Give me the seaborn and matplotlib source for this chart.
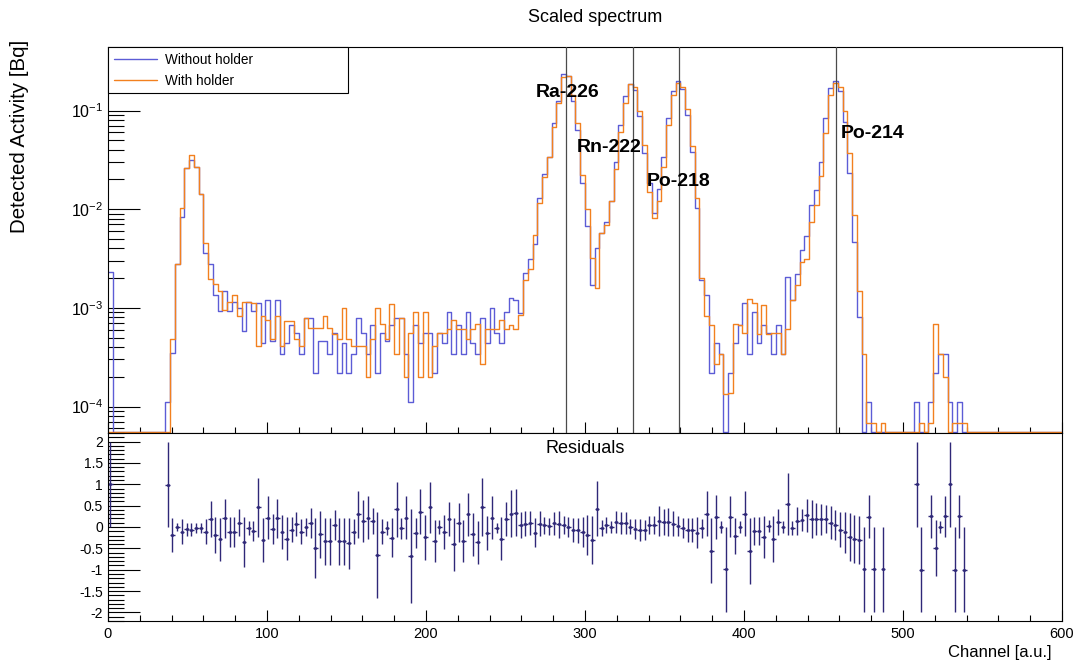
import numpy as np
import pandas as pd
import matplotlib
matplotlib.use("Agg")
import matplotlib.pyplot as plt
import matplotlib.ticker as mticker
from matplotlib.lines import Line2D
import seaborn as sns

# %% Data (200 bins of 3 channels, 0..600)
nan = np.nan
bin_edges = list(range(0, 603, 3))

without_holder = [
    2.3e-3, 0, 0, 0, 0, 0, 0, 0, 0, 0,
    0, 0, 1.12e-4, 3.5e-4, 2.8e-3, 8.4e-3, 2.63e-2, 3.17e-2, 2.69e-2, 1.43e-2,
    3.6e-3, 2.8e-3, 1.36e-3, 9.2e-4, 1.5e-3, 9.2e-4, 1.14e-3, 1.0e-3, 5.8e-4, 1.15e-3,
    9.2e-4, 1.12e-3, 4.4e-4, 1.2e-3, 4.6e-4, 1.2e-3, 3.4e-4, 4.4e-4, 6.7e-4, 5.6e-4,
    3.4e-4, 7.9e-4, 7.9e-4, 2.2e-4, 4.6e-4, 4.6e-4, 3.4e-4, 5.6e-4, 2.2e-4, 4.4e-4,
    2.2e-4, 3.4e-4, 7.9e-4, 5.6e-4, 3.4e-4, 6.7e-4, 2.2e-4, 5.6e-4, 4.6e-4, 6.7e-4,
    7.9e-4, 7.9e-4, 3.4e-4, 1.12e-4, 6.7e-4, 4.4e-4, 5.6e-4, 5.6e-4, 2.2e-4, 5.6e-4,
    4.4e-4, 9.0e-4, 3.4e-4, 6.7e-4, 3.4e-4, 9.0e-4, 4.4e-4, 3.4e-4, 7.9e-4, 4.4e-4,
    1.0e-3, 5.6e-4, 4.4e-4, 9.0e-4, 1.25e-3, 1.21e-3, 8.9e-4, 2.25e-3, 3.1e-3, 4.4e-3,
    1.3e-2, 2.25e-2, 3.37e-2, 7.5e-2, 0.125, 0.234, 0.225, 0.126, 0.064, 0.0184,
    6.8e-3, 1.7e-3, 4.0e-3, 5.7e-3, 7.5e-3, 1.2e-2, 3.0e-2, 7.2e-2, 0.139, 0.185,
    0.162, 0.087, 0.037, 0.0184, 9.1e-3, 1.6e-2, 3.4e-2, 8.4e-2, 0.156, 0.197,
    0.165, 0.090, 0.038, 1.03e-2, 1.9e-3, 1.35e-3, 2.2e-4, 4.4e-4, 3.4e-4, 0,
    2.2e-4, 4.4e-4, 6.7e-4, 1.12e-3, 3.4e-4, 9.0e-4, 4.4e-4, 6.7e-4, 5.6e-4, 3.4e-4,
    6.7e-4, 3.4e-4, 2.07e-3, 1.2e-3, 2.2e-3, 3.9e-3, 5.3e-3, 1.1e-2, 1.55e-2, 3.04e-2,
    8.4e-2, 0.17, 0.197, 0.156, 0.077, 2.32e-2, 4.7e-3, 8.1e-4, 0, 1.12e-4,
    0, 0, 0, 0, 0, 0, 0, 0, 0, 1.12e-4,
    0, 0, 1.12e-4, 2.2e-4, 3.4e-4, 3.4e-4, 1.12e-4, 0, 1.12e-4, 0,
    0, 0, 0, 0, 0, 0, 0, 0, 0, 0,
    0, 0, 0, 0, 0, 0, 0, 0, 0, 0,
]

with_holder = [
    0, 0, 0, 0, 0, 0, 0, 0, 0, 0,
    0, 0, 0, 4.8e-4, 2.8e-3, 1.03e-2, 2.63e-2, 3.56e-2, 2.69e-2, 1.43e-2,
    4.5e-3, 1.95e-3, 1.75e-3, 1.5e-3, 9.6e-4, 1.14e-3, 1.36e-3, 8.2e-4, 1.16e-3, 1.15e-3,
    1.12e-3, 4.1e-4, 8.2e-4, 7.5e-4, 4.8e-4, 8.2e-4, 4.1e-4, 7.3e-4, 7.3e-4, 4.8e-4,
    4.1e-4, 7.9e-4, 6.2e-4, 6.2e-4, 6.2e-4, 8.2e-4, 6.2e-4, 5.4e-4, 4.8e-4, 1.0e-3,
    4.8e-4, 4.1e-4, 4.1e-4, 4.1e-4, 2.0e-4, 4.8e-4, 1.0e-3, 6.8e-4, 4.8e-4, 1.1e-3,
    3.4e-4, 7.9e-4, 2.0e-4, 5.6e-4, 9.0e-4, 2.0e-4, 9.0e-4, 2.0e-4, 4.1e-4, 5.6e-4,
    5.6e-4, 6.1e-4, 7.5e-4, 6.1e-4, 6.1e-4, 4.8e-4, 6.1e-4, 6.8e-4, 2.7e-4, 6.1e-4,
    6.1e-4, 6.1e-4, 7.5e-4, 6.1e-4, 6.7e-4, 6.1e-4, 8.4e-4, 1.9e-3, 2.5e-3, 5.5e-3,
    1.15e-2, 2.1e-2, 3.37e-2, 6.8e-2, 0.118, 0.22, 0.225, 0.145, 0.075, 0.0223,
    1.0e-2, 3.2e-3, 1.6e-3, 5.7e-3, 6.9e-3, 1.2e-2, 2.55e-2, 6.0e-2, 0.119, 0.185,
    0.175, 0.100, 0.045, 0.0151, 8.1e-3, 1.22e-2, 2.7e-2, 7.16e-2, 0.144, 0.19,
    0.175, 0.104, 0.044, 1.29e-2, 2.0e-3, 8.2e-4, 6.7e-4, 2.7e-4, 3.4e-4, 1.35e-4,
    1.36e-4, 6.8e-4, 6.7e-4, 5.6e-4, 1.23e-3, 1.12e-3, 5.4e-4, 1.07e-3, 5.4e-4, 5.6e-4,
    5.6e-4, 3.4e-4, 6.1e-4, 1.2e-3, 1.7e-3, 2.9e-3, 3.1e-3, 7.4e-3, 1.1e-2, 2.18e-2,
    5.9e-2, 0.144, 0.19, 0.175, 0.098, 3.7e-2, 8.8e-3, 1.5e-3, 3.4e-4, 6.8e-5,
    6.8e-5, 0, 6.8e-5, 0, 0, 0, 0, 0, 0, 0,
    6.8e-5, 0, 6.8e-5, 6.8e-4, 3.4e-4, 2.0e-4, 0, 6.8e-5, 6.8e-5, 6.8e-5,
    0, 0, 0, 0, 0, 0, 0, 0, 0, 0,
    0, 0, 0, 0, 0, 0, 0, 0, 0, 0,
]

residual = [
    1.0, nan, nan, nan, nan, nan, nan, nan, nan, nan,
    nan, nan, 0.99, -0.18, 0.0, -0.11, -0.05, -0.06, -0.03, -0.03,
    -0.11, 0.18, -0.18, -0.29, 0.2, -0.11, -0.11, 0.1, -0.35, -0.03,
    -0.09, 0.46, -0.31, 0.22, -0.05, 0.2, -0.11, -0.27, -0.06, 0.07,
    -0.11, 0.0, 0.1, -0.49, -0.17, -0.33, -0.33, 0.04, -0.33, -0.33,
    -0.38, -0.11, 0.3, 0.14, 0.22, 0.14, -0.66, -0.11, -0.03, -0.25,
    0.41, -0.03, 0.22, -0.68, -0.15, 0.36, -0.24, 0.46, -0.33, 0.0,
    -0.11, 0.18, -0.41, 0.1, -0.33, 0.3, -0.17, -0.36, 0.47, -0.15,
    0.22, -0.02, -0.27, 0.18, 0.31, 0.33, 0.04, 0.08, 0.1, -0.13,
    0.08, 0.04, 0.02, 0.09, 0.06, 0.04, 0.0, -0.07, -0.08, -0.11,
    -0.19, -0.31, 0.43, -0.03, 0.05, 0.01, 0.12, 0.09, 0.09, 0.01,
    -0.04, -0.07, -0.07, 0.05, 0.05, 0.14, 0.12, 0.12, 0.08, 0.02,
    -0.03, -0.07, -0.07, -0.13, -0.03, 0.31, -0.56, 0.24, 0.0, -0.99,
    0.24, -0.21, 0.0, 0.31, -0.56, -0.10, -0.10, -0.24, 0.02, -0.29,
    0.12, 0.0, 0.54, -0.02, 0.14, 0.16, 0.27, 0.19, 0.18, 0.18,
    0.19, 0.10, 0.04, -0.06, -0.12, -0.24, -0.29, -0.30, -0.99, 0.24,
    -0.99, nan, -0.99, nan, nan, nan, nan, nan, nan, 1.0,
    -1.0, nan, 0.25, -0.49, 0.0, 0.25, 1.0, -1.0, 0.25, -1.0,
    nan, nan, nan, nan, nan, nan, nan, nan, nan, nan,
    nan, nan, nan, nan, nan, nan, nan, nan, nan, nan,
]

residual_err = [
    1.0, nan, nan, nan, nan, nan, nan, nan, nan, nan,
    nan, nan, 1.0, 0.4, 0.1, 0.3, 0.15, 0.15, 0.12, 0.12,
    0.3, 0.42, 0.42, 0.5, 0.45, 0.35, 0.35, 0.32, 0.58, 0.16,
    0.24, 0.69, 0.52, 0.5, 0.35, 0.45, 0.4, 0.5, 0.3, 0.27,
    0.3, 0.22, 0.35, 0.7, 0.55, 0.55, 0.55, 0.35, 0.55, 0.55,
    0.6, 0.3, 0.55, 0.5, 0.5, 0.3, 1.0, 0.3, 0.16, 0.45,
    0.65, 0.25, 0.5, 1.1, 0.35, 0.53, 0.53, 0.6, 0.5, 0.16,
    0.4, 0.4, 0.62, 0.45, 0.5, 0.5, 0.5, 0.5, 0.68, 0.4,
    0.5, 0.12, 0.5, 0.4, 0.55, 0.55, 0.3, 0.3, 0.28, 0.35,
    0.3, 0.2, 0.2, 0.27, 0.32, 0.21, 0.24, 0.27, 0.30, 0.35,
    0.46, 0.56, 0.64, 0.19, 0.18, 0.14, 0.26, 0.25, 0.26, 0.18,
    0.23, 0.26, 0.24, 0.21, 0.21, 0.35, 0.31, 0.32, 0.29, 0.23,
    0.23, 0.29, 0.29, 0.36, 0.22, 0.53, 0.76, 0.51, 0.14, 1.0,
    0.48, 0.43, 0.14, 0.53, 0.77, 0.33, 0.33, 0.49, 0.14, 0.54,
    0.31, 0.14, 0.73, 0.16, 0.33, 0.26, 0.39, 0.45, 0.37, 0.36,
    0.32, 0.38, 0.35, 0.41, 0.48, 0.56, 0.56, 0.56, 1.0, 0.5,
    1.0, nan, 1.0, nan, nan, nan, nan, nan, nan, 1.0,
    1.0, nan, 0.5, 0.66, 0.14, 0.48, 1.0, 1.0, 0.5, 1.0,
    nan, nan, nan, nan, nan, nan, nan, nan, nan, nan,
    nan, nan, nan, nan, nan, nan, nan, nan, nan, nan,
]

peak_names = ["Ra-226", "Rn-222", "Po-218", "Po-214"]
peak_channels = [288, 330, 359, 458]
# label anchor (left edge channel, activity) for each peak name
label_channels = [269, 295, 339, 461]
label_heights = [0.151, 0.042, 0.019, 0.059]

# %% Style
BLUE = "#5c5cd6"
ORANGE = "#f2801f"
RES_COLOR = "#2f2878"

sns.set_style("ticks")
plt.rcParams["font.family"] = ["Liberation Sans", "DejaVu Sans"]
plt.rcParams["text.color"] = "black"
plt.rcParams["mathtext.fontset"] = "custom"
plt.rcParams["mathtext.rm"] = "Liberation Sans"
plt.rcParams["mathtext.it"] = "Liberation Sans:italic"
plt.rcParams["mathtext.bf"] = "Liberation Sans:bold"

edges = np.array(bin_edges, dtype=float)
centers = (edges[:-1] + edges[1:]) / 2
half_bin = np.diff(edges) / 2
y_low, y_high = 5.4e-5, 0.44
floor = 5.55e-5  # empty bins are drawn along the bottom of the frame, like ROOT

df = pd.DataFrame({
    "channel": centers,
    "without": np.maximum(without_holder, floor),
    "with": np.maximum(with_holder, floor),
})

fig = plt.figure(figsize=(10.86, 6.64), dpi=100)
ax = fig.add_axes([0.0994, 0.3479, 0.8785, 0.5813])
axr = fig.add_axes([0.0994, 0.0648, 0.8785, 0.2831])

# %% Spectrum panel
sns.histplot(data=df, x="channel", weights="without", bins=bin_edges,
             element="step", fill=False, color=BLUE, linewidth=1.0, ax=ax)
sns.histplot(data=df, x="channel", weights="with", bins=bin_edges,
             element="step", fill=False, color=ORANGE, linewidth=1.0, ax=ax)
ax.set_yscale("log")
ax.set_xlim(0, 600)
ax.set_ylim(y_low, y_high)
ax.set_xlabel("")
ax.set_ylabel("")

for ch in peak_channels:
    ax.axvline(ch, color="#4a4a4a", lw=0.9, zorder=5)
for name, cx, cy in zip(peak_names, label_channels, label_heights):
    ax.text(cx, cy, name, fontsize=14, fontweight="bold", color="black",
            ha="left", va="center", zorder=6)

handles = [Line2D([], [], color=BLUE, lw=1.0), Line2D([], [], color=ORANGE, lw=1.0)]
leg = ax.legend(handles, ["Without holder", "With holder"], loc="upper left",
                bbox_to_anchor=(0.0, 0.0, 0.2516, 1.0), mode="expand", borderaxespad=0,
                frameon=True, fancybox=False, framealpha=1, edgecolor="black",
                fontsize=9.8, handlelength=3.2, handletextpad=0.6, labelspacing=0.5,
                borderpad=0.42)
leg.get_frame().set_linewidth(0.8)

ax.yaxis.set_major_locator(mticker.LogLocator(base=10, numticks=10))
ax.yaxis.set_minor_locator(mticker.LogLocator(base=10, subs=np.arange(2, 10), numticks=20))
ax.yaxis.set_major_formatter(mticker.LogFormatterMathtext())
ax.yaxis.set_minor_formatter(mticker.NullFormatter())
ax.xaxis.set_major_locator(mticker.MultipleLocator(100))
ax.xaxis.set_minor_locator(mticker.MultipleLocator(20))

# %% Residual panel
axr.errorbar(centers, residual, yerr=residual_err, xerr=half_bin, fmt=".", ms=2.5,
             color=RES_COLOR, ecolor=RES_COLOR, elinewidth=1.0, capsize=0)
axr.set_xlim(0, 600)
axr.set_ylim(-2.2, 2.2)
axr.yaxis.set_major_locator(mticker.MultipleLocator(0.5))
axr.yaxis.set_minor_locator(mticker.MultipleLocator(0.1))
axr.yaxis.set_major_formatter(mticker.FuncFormatter(lambda v, p: "%g" % round(v, 2)))
axr.xaxis.set_major_locator(mticker.MultipleLocator(100))
axr.xaxis.set_minor_locator(mticker.MultipleLocator(20))
axr.text(0.5, 0.915, "Residuals", transform=axr.transAxes, ha="center", va="center", fontsize=13)

for a in (ax, axr):
    for sp in a.spines.values():
        sp.set_visible(True)
        sp.set_color("black")
        sp.set_linewidth(0.8)
    a.tick_params(axis="both", which="both", direction="in", colors="black",
                  width=0.8, top=False, right=False)
    a.tick_params(axis="y", which="major", length=23, labelsize=10)
    a.tick_params(axis="y", which="minor", length=11.5)
    a.tick_params(axis="x", which="major", length=8, pad=4, labelsize=10.5)
    a.tick_params(axis="x", which="minor", length=4.3)
ax.tick_params(axis="y", which="major", labelsize=11.5)
ax.tick_params(axis="x", labelbottom=False)

# %% Titles
fig.text(595 / 1086, 0.973, "Scaled spectrum", ha="center", va="center", fontsize=13)
fig.text(20 / 1086, 1 - 40 / 664, "Detected Activity [Bq]", rotation=90,
         ha="center", va="top", fontsize=14.8)
fig.text(1052 / 1086, 1 - 652 / 664, "Channel [a.u.]", ha="right", va="center", fontsize=12)

fig.savefig("out.png", dpi=100)
